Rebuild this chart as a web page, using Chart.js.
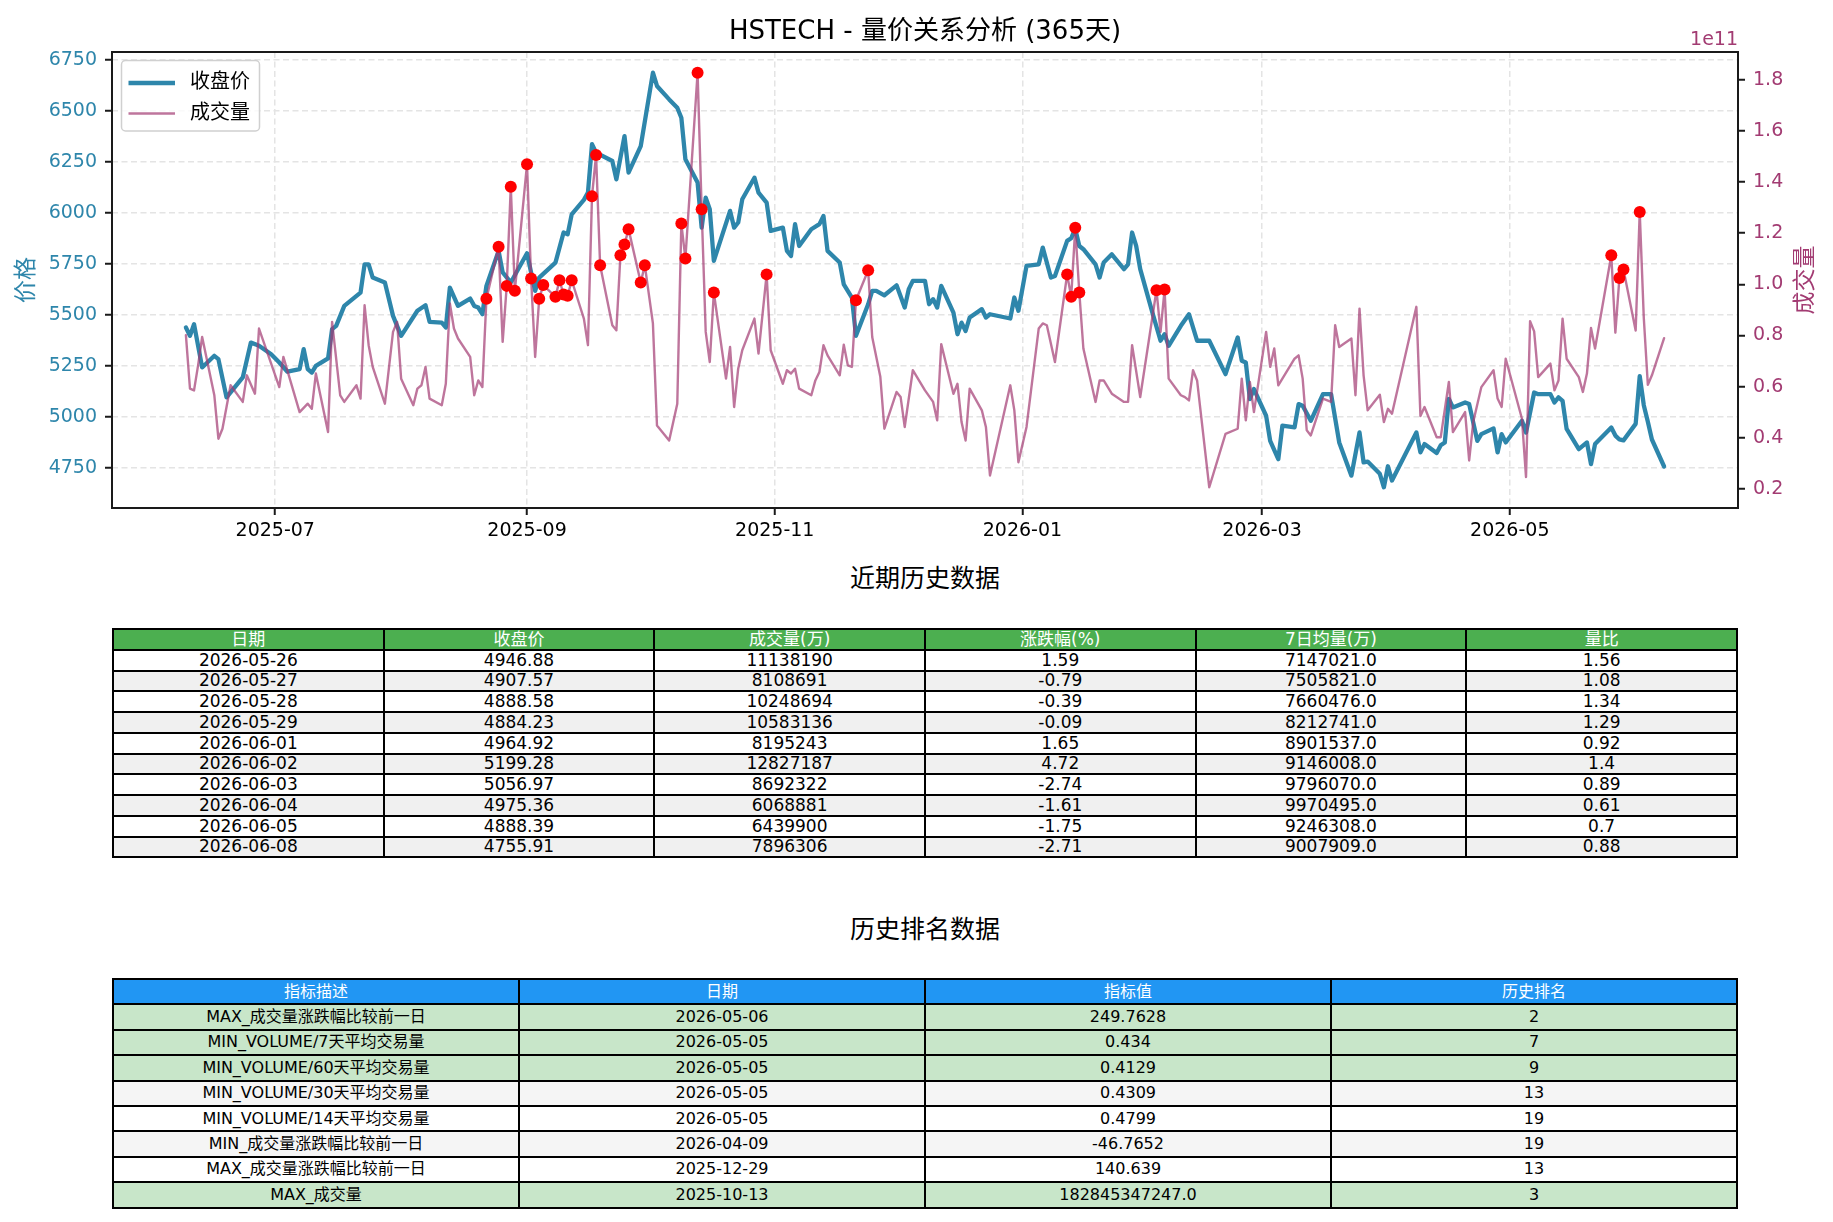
<!DOCTYPE html>
<html lang="zh">
<head>
<meta charset="UTF-8">
<title>HSTECH - 量价关系分析 (365天)</title>
<script src="https://cdn.jsdelivr.net/npm/chart.js"></script>
<style>
  body { margin: 0; background: #fff; }
  #page { position: relative; width: 1833px; height: 1222px; overflow: hidden;
          font-family: "DejaVu Sans", "Noto Sans CJK SC", sans-serif; color: #000; }
  #chartBox { position: absolute; left: 0; top: 0; }
  .tbl-title { position: absolute; left: 112px; width: 1626px; text-align: center;
               font-size: 25px; line-height: 30px; }
  table.data { position: absolute; left: 112px; width: 1626px; border-collapse: collapse;
               table-layout: fixed; }
  table.data td, table.data th { border: 2px solid #000; padding: 0; text-align: center;
               vertical-align: middle; font-weight: normal; white-space: nowrap; overflow: hidden; }
  #recent { top: 628px; font-size: 17px; line-height: 17px; }
  #recent tr { height: 20.75px; }
  #recent th { background: #4CAF50; color: #fff; }
  #rank { top: 978px; font-size: 16px; line-height: 16px; }
  #rank tr { height: 25.4px; }
  #rank th { background: #2196F3; color: #fff; }
</style>
</head>
<body>
<div id="page">
  <div id="chartBox"><canvas id="mainChart" width="1833" height="545"></canvas></div>
  <div class="tbl-title" style="top:564px">近期历史数据</div>
  <table class="data" id="recent"></table>
  <div class="tbl-title" style="top:915px">历史排名数据</div>
  <table class="data" id="rank"></table>
</div>

<script>
// ---- chart data ----
const priceDates = [
  '2025-06-09','2025-06-10','2025-06-11','2025-06-13','2025-06-16','2025-06-17','2025-06-19','2025-06-23','2025-06-25','2025-06-27','2025-06-30',
  '2025-07-02','2025-07-04','2025-07-07','2025-07-08','2025-07-09','2025-07-10','2025-07-11','2025-07-14','2025-07-15','2025-07-16','2025-07-18',
  '2025-07-22','2025-07-23','2025-07-24','2025-07-25','2025-07-28','2025-07-30',
  '2025-08-01','2025-08-05','2025-08-07','2025-08-08','2025-08-11','2025-08-12','2025-08-13','2025-08-15','2025-08-18','2025-08-19','2025-08-20',
  '2025-08-21','2025-08-22','2025-08-25','2025-08-26','2025-08-28',
  '2025-09-01','2025-09-02','2025-09-03','2025-09-04','2025-09-08','2025-09-10','2025-09-11','2025-09-12','2025-09-15','2025-09-16','2025-09-17',
  '2025-09-18','2025-09-22','2025-09-23','2025-09-25','2025-09-26','2025-09-29',
  '2025-10-02','2025-10-03','2025-10-06','2025-10-08','2025-10-09','2025-10-10','2025-10-13','2025-10-14','2025-10-15','2025-10-16','2025-10-17',
  '2025-10-21','2025-10-22','2025-10-23','2025-10-24','2025-10-27','2025-10-28','2025-10-30','2025-10-31',
  '2025-11-03','2025-11-04','2025-11-05','2025-11-06','2025-11-07','2025-11-10','2025-11-12','2025-11-13','2025-11-14','2025-11-17','2025-11-18',
  '2025-11-20','2025-11-21','2025-11-24','2025-11-25','2025-11-26','2025-11-28',
  '2025-12-01','2025-12-03','2025-12-04','2025-12-05','2025-12-08','2025-12-09','2025-12-10','2025-12-11','2025-12-12','2025-12-15','2025-12-16',
  '2025-12-17','2025-12-18','2025-12-19','2025-12-22','2025-12-23','2025-12-24','2025-12-29','2025-12-30','2025-12-31',
  '2026-01-02','2026-01-05','2026-01-06','2026-01-08','2026-01-09','2026-01-12','2026-01-13','2026-01-14','2026-01-15','2026-01-16','2026-01-19',
  '2026-01-20','2026-01-21','2026-01-23','2026-01-26','2026-01-27','2026-01-28','2026-01-29','2026-01-30',
  '2026-02-02','2026-02-04','2026-02-05','2026-02-06','2026-02-09','2026-02-11','2026-02-13','2026-02-16','2026-02-20','2026-02-23','2026-02-24',
  '2026-02-25','2026-02-26','2026-02-27',
  '2026-03-02','2026-03-03','2026-03-05','2026-03-06','2026-03-09','2026-03-10','2026-03-11','2026-03-13','2026-03-16','2026-03-18','2026-03-20',
  '2026-03-23','2026-03-25','2026-03-26','2026-03-27','2026-03-30','2026-03-31',
  '2026-04-01','2026-04-02','2026-04-08','2026-04-09','2026-04-10','2026-04-13','2026-04-14','2026-04-15','2026-04-16','2026-04-17','2026-04-20',
  '2026-04-21','2026-04-23','2026-04-24','2026-04-27','2026-04-28','2026-04-29','2026-04-30',
  '2026-05-04','2026-05-05','2026-05-07','2026-05-08','2026-05-11','2026-05-12','2026-05-13','2026-05-14','2026-05-15','2026-05-18','2026-05-20',
  '2026-05-21','2026-05-22','2026-05-26','2026-05-27','2026-05-28','2026-05-29',
  '2026-06-01','2026-06-02','2026-06-03','2026-06-04','2026-06-05','2026-06-08'
];
const priceValues = [
  5438,5397,5454,5242,5299,5283,5095,5193,5364,5348,5307,
  5266,5221,5234,5332,5234,5217,5250,5286,5430,5446,5544,
  5609,5748,5748,5683,5659,5495,
  5397,5520,5547,5466,5462,5438,5634,5544,5580,5544,5536,
  5503,5642,5814,5708,5659,
  5802,5708,5618,5683,5756,5904,5895,5993,6064,6100,6337,
  6296,6255,6165,6377,6198,6328,
  6688,6623,6557,6516,6467,6263,6149,5928,6075,6018,5765,
  6010,5928,5953,6067,6173,6100,6051,5912,
  5928,5814,5789,5945,5838,5920,5945,5985,5814,5757,5650,
  5585,5397,5552,5618,5618,5596,
  5645,5536,5626,5667,5667,5552,5577,5536,5642,5511,5405,
  5462,5421,5487,5528,5487,5503,5482,5585,5520,
  5740,5748,5830,5683,5691,5863,5876,5923,5838,5822,5748,
  5683,5757,5797,5724,5748,5904,5838,5724,
  5511,5373,5405,5348,5446,5503,5373,5373,5209,5389,5275,
  5266,5087,5136,
  5005,4882,4792,4956,4948,5062,5054,4980,5111,5111,4874,
  4711,4923,4776,4780,4720,4654,
  4757,4687,4923,4825,4866,4822,4860,4874,5087,5046,5070,
  5062,4882,4915,4943,4825,4915,4874,
  4980,4923,5119,5111,5111,5070,5095,5078,4940,4841,4874,
  4768,4866,4946.88,4907.57,4888.58,4884.23,
  4964.92,5199.28,5056.97,4975.36,4888.39,4755.91
];

const volumeDates = [
  '2025-06-09','2025-06-10','2025-06-11','2025-06-12','2025-06-13','2025-06-16','2025-06-17','2025-06-18','2025-06-20','2025-06-23','2025-06-24',
  '2025-06-26','2025-06-27',
  '2025-07-02','2025-07-03','2025-07-07','2025-07-09','2025-07-10','2025-07-11','2025-07-14','2025-07-15','2025-07-17','2025-07-18','2025-07-21',
  '2025-07-22','2025-07-23','2025-07-24','2025-07-25','2025-07-28','2025-07-30','2025-07-31',
  '2025-08-01','2025-08-04','2025-08-05','2025-08-06','2025-08-07','2025-08-08','2025-08-11','2025-08-12','2025-08-13','2025-08-14','2025-08-15',
  '2025-08-18','2025-08-19','2025-08-20','2025-08-21','2025-08-22','2025-08-25','2025-08-26','2025-08-27','2025-08-28','2025-08-29',
  '2025-09-01','2025-09-02','2025-09-03','2025-09-04','2025-09-05','2025-09-08','2025-09-09','2025-09-10','2025-09-11','2025-09-12','2025-09-15',
  '2025-09-16','2025-09-17','2025-09-18','2025-09-19','2025-09-22','2025-09-23','2025-09-24','2025-09-25','2025-09-26','2025-09-29','2025-09-30',
  '2025-10-02','2025-10-03','2025-10-06','2025-10-08','2025-10-09','2025-10-10','2025-10-13','2025-10-14','2025-10-15','2025-10-16','2025-10-17',
  '2025-10-20','2025-10-21','2025-10-22','2025-10-23','2025-10-24','2025-10-27','2025-10-28','2025-10-30','2025-10-31',
  '2025-11-03','2025-11-04','2025-11-05','2025-11-06','2025-11-07','2025-11-10','2025-11-11','2025-11-12','2025-11-13','2025-11-14','2025-11-17',
  '2025-11-18','2025-11-19','2025-11-20','2025-11-21','2025-11-24','2025-11-25','2025-11-27','2025-11-28',
  '2025-12-01','2025-12-02','2025-12-03','2025-12-05','2025-12-08','2025-12-10','2025-12-11','2025-12-12','2025-12-15','2025-12-16','2025-12-17',
  '2025-12-18','2025-12-19','2025-12-22','2025-12-23','2025-12-24','2025-12-29','2025-12-30','2025-12-31',
  '2026-01-02','2026-01-05','2026-01-06','2026-01-07','2026-01-09','2026-01-12','2026-01-13','2026-01-14','2026-01-15','2026-01-16','2026-01-19',
  '2026-01-20','2026-01-21','2026-01-23','2026-01-26','2026-01-27','2026-01-28','2026-01-30',
  '2026-02-03','2026-02-04','2026-02-05','2026-02-06','2026-02-09','2026-02-10','2026-02-11','2026-02-12','2026-02-13','2026-02-16','2026-02-20',
  '2026-02-23','2026-02-24','2026-02-25','2026-02-26','2026-02-27',
  '2026-03-02','2026-03-03','2026-03-04','2026-03-05','2026-03-09','2026-03-10','2026-03-11','2026-03-12','2026-03-13','2026-03-16','2026-03-18',
  '2026-03-19','2026-03-20','2026-03-23','2026-03-24','2026-03-25','2026-03-26','2026-03-27','2026-03-30','2026-03-31',
  '2026-04-01','2026-04-02','2026-04-08','2026-04-09','2026-04-10','2026-04-13','2026-04-14','2026-04-16','2026-04-17','2026-04-20','2026-04-21',
  '2026-04-22','2026-04-24','2026-04-27','2026-04-28','2026-04-29','2026-04-30',
  '2026-05-04','2026-05-05','2026-05-06','2026-05-07','2026-05-08','2026-05-11','2026-05-12','2026-05-13','2026-05-14','2026-05-15','2026-05-18',
  '2026-05-19','2026-05-20','2026-05-21','2026-05-22','2026-05-26','2026-05-27','2026-05-28','2026-05-29',
  '2026-06-01','2026-06-02','2026-06-03','2026-06-04','2026-06-05','2026-06-08'
];
// volume in units of 1e11
const volumeE11 = [
  0.801,0.592,0.585,0.683,0.794,0.566,0.396,0.435,0.605,0.540,0.644,
  0.572,0.827,
  0.598,0.716,0.500,0.533,0.513,0.651,0.422,0.853,0.566,0.540,0.605,
  0.553,0.918,0.762,0.677,0.533,0.814,0.853,
  0.631,0.527,0.592,0.605,0.677,0.553,0.527,0.611,0.925,0.827,0.788,
  0.716,0.566,0.624,0.598,0.944,1.147,0.775,0.994,1.382,0.975,
  1.470,1.023,0.716,0.944,0.997,0.951,1.016,0.960,0.955,1.016,0.866,
  0.762,1.345,1.506,1.075,0.840,0.820,1.114,1.156,1.216,1.007,1.075,
  0.847,0.448,0.389,0.533,1.238,1.101,1.828,1.294,0.814,0.696,0.968,
  0.631,0.755,0.520,0.670,0.742,0.866,0.729,1.039,0.742,
  0.611,0.664,0.651,0.670,0.592,0.566,0.624,0.657,0.762,0.722,0.644,
  0.764,0.683,0.677,0.938,1.055,0.794,0.638,0.435,
  0.579,0.559,0.442,0.664,0.585,0.540,0.468,0.766,0.572,0.611,0.461,
  0.389,0.592,0.507,0.442,0.252,0.605,0.507,0.304,
  0.442,0.827,0.847,0.840,0.696,1.039,0.951,1.221,0.968,0.749,0.540,
  0.624,0.624,0.572,0.540,0.540,0.762,0.559,
  0.977,0.814,0.980,0.631,0.566,0.559,0.546,0.664,0.624,0.206,0.415,
  0.435,0.631,0.468,0.618,0.500,
  0.814,0.677,0.749,0.605,0.709,0.722,0.631,0.429,0.409,0.553,0.540,
  0.840,0.755,0.788,0.566,0.905,0.644,0.507,0.568,0.461,
  0.513,0.494,0.912,0.485,0.520,0.402,0.402,0.618,0.422,0.500,0.311,
  0.461,0.598,0.664,0.553,0.520,0.709,
  0.474,0.246,0.856,0.816,0.637,0.690,0.585,0.624,0.866,0.709,0.637,
  0.579,0.651,0.829,0.749,1.1138,0.8109,1.0249,1.0583,
  0.8195,1.2827,0.8692,0.6069,0.6440,0.7896
];

// days marked with red dots (volume spikes)
const spikeDates = [
  '2025-08-22','2025-08-25','2025-08-27','2025-08-28','2025-08-29','2025-09-01','2025-09-02','2025-09-04','2025-09-05',
  '2025-09-08','2025-09-09','2025-09-10','2025-09-11','2025-09-12','2025-09-17','2025-09-18','2025-09-19',
  '2025-09-24','2025-09-25','2025-09-26','2025-09-29','2025-09-30','2025-10-09','2025-10-10','2025-10-13','2025-10-14',
  '2025-10-17','2025-10-30','2025-11-21','2025-11-24','2026-01-12','2026-01-13','2026-01-14','2026-01-15',
  '2026-02-03','2026-02-05','2026-05-26','2026-05-28','2026-05-29','2026-06-02'
];

const monthTicks = ['2025-07-01','2025-09-01','2025-11-01','2026-01-01','2026-03-01','2026-05-01'];
const priceTicks = [4750,5000,5250,5500,5750,6000,6250,6500,6750];
const volumeTicks = [0.2,0.4,0.6,0.8,1.0,1.2,1.4,1.6,1.8];

// ---- tables ----
const recentCols = ['日期','收盘价','成交量(万)','涨跌幅(%)','7日均量(万)','量比'];
const recentRows = [
  ['2026-05-26','4946.88','11138190','1.59','7147021.0','1.56'],
  ['2026-05-27','4907.57','8108691','-0.79','7505821.0','1.08'],
  ['2026-05-28','4888.58','10248694','-0.39','7660476.0','1.34'],
  ['2026-05-29','4884.23','10583136','-0.09','8212741.0','1.29'],
  ['2026-06-01','4964.92','8195243','1.65','8901537.0','0.92'],
  ['2026-06-02','5199.28','12827187','4.72','9146008.0','1.4'],
  ['2026-06-03','5056.97','8692322','-2.74','9796070.0','0.89'],
  ['2026-06-04','4975.36','6068881','-1.61','9970495.0','0.61'],
  ['2026-06-05','4888.39','6439900','-1.75','9246308.0','0.7'],
  ['2026-06-08','4755.91','7896306','-2.71','9007909.0','0.88']
];
const rankCols = ['指标描述','日期','指标值','历史排名'];
const rankRows = [
  ['MAX_成交量涨跌幅比较前一日','2026-05-06','249.7628','2'],
  ['MIN_VOLUME/7天平均交易量','2026-05-05','0.434','7'],
  ['MIN_VOLUME/60天平均交易量','2026-05-05','0.4129','9'],
  ['MIN_VOLUME/30天平均交易量','2026-05-05','0.4309','13'],
  ['MIN_VOLUME/14天平均交易量','2026-05-05','0.4799','19'],
  ['MIN_成交量涨跌幅比较前一日','2026-04-09','-46.7652','19'],
  ['MAX_成交量涨跌幅比较前一日','2025-12-29','140.639','13'],
  ['MAX_成交量','2025-10-13','182845347247.0','3']
];
const rankHighlight = [true, true, true, false, false, false, false, true];

// ---- helpers ----
const FONT = '"DejaVu Sans", "Noto Sans CJK SC", sans-serif';
const BLUE = '#2E86AB';
const PINK = '#A23B72';
const PINK_LINE = 'rgba(162,59,114,0.7)';

function dayNum(s) {
  return Date.UTC(+s.slice(0, 4), +s.slice(5, 7) - 1, +s.slice(8, 10)) / 864e5;
}
function monthLabel(v) {
  return new Date(Math.round(v) * 864e5).toISOString().slice(0, 7);
}
function withMargin(vals) {
  const lo = Math.min(...vals), hi = Math.max(...vals);
  const m = (hi - lo) * 0.05;
  return [lo - m, hi + m];
}

const pricePts = priceDates.map((d, i) => ({ x: dayNum(d), y: priceValues[i] }));
const volPts = volumeDates.map((d, i) => ({ x: dayNum(d), y: volumeE11[i] }));
const spikePts = spikeDates.map(d => ({ x: dayNum(d), y: volumeE11[volumeDates.indexOf(d)] }));

const xRange = withMargin(pricePts.map(p => p.x));
const pRange = withMargin(priceValues);
const vRange = withMargin(volumeE11);

// titles, legend, frame drawn on top of the chart
const decorPlugin = {
  id: 'decor',
  afterDraw(chart) {
    const ctx = chart.ctx;
    const a = chart.chartArea;
    ctx.save();

    // frame (all four spines)
    ctx.strokeStyle = '#1a1a1a';
    ctx.lineWidth = 2;
    ctx.strokeRect(a.left, a.top, a.right - a.left, a.bottom - a.top);

    // title
    ctx.fillStyle = '#000';
    ctx.font = '26px ' + FONT;
    ctx.textAlign = 'center';
    ctx.textBaseline = 'middle';
    ctx.fillText('HSTECH - 量价关系分析 (365天)', (a.left + a.right) / 2, 32.5);

    // axis titles
    const midY = (a.top + a.bottom) / 2;
    ctx.font = '23px ' + FONT;
    ctx.fillStyle = BLUE;
    ctx.save();
    ctx.translate(27, midY);
    ctx.rotate(-Math.PI / 2);
    ctx.fillText('价格', 0, 0);
    ctx.restore();
    ctx.fillStyle = PINK;
    ctx.save();
    ctx.translate(1806, midY);
    ctx.rotate(-Math.PI / 2);
    ctx.fillText('成交量', 0, 0);
    ctx.restore();

    // offset text of the volume axis
    ctx.font = '19px ' + FONT;
    ctx.textAlign = 'right';
    ctx.textBaseline = 'alphabetic';
    ctx.fillText('1e11', a.right, 45);

    // legend
    const lx = 121.5, ly = 60.5, lw = 138, lh = 70.5;
    ctx.beginPath();
    ctx.roundRect(lx, ly, lw, lh, 4);
    ctx.fillStyle = 'rgba(255,255,255,0.8)';
    ctx.fill();
    ctx.strokeStyle = '#d0d0d0';
    ctx.lineWidth = 1.5;
    ctx.stroke();
    const rows = [
      { label: '收盘价', color: BLUE, width: 4.3, y: 83 },
      { label: '成交量', color: PINK_LINE, width: 2.4, y: 113.5 }
    ];
    ctx.font = '20px ' + FONT;
    ctx.textAlign = 'left';
    ctx.textBaseline = 'middle';
    rows.forEach(r => {
      ctx.beginPath();
      ctx.moveTo(128.5, r.y);
      ctx.lineTo(175, r.y);
      ctx.strokeStyle = r.color;
      ctx.lineWidth = r.width;
      ctx.stroke();
      ctx.fillStyle = '#000';
      ctx.fillText(r.label, 190, r.y);
    });
    ctx.restore();
  }
};

const gridStyle = { color: '#e4e4e4', lineWidth: 1.5, tickLength: 7, tickColor: '#1a1a1a', tickWidth: 2, tickBorderDash: [] };
const dashed = { display: false, dash: [6, 3.5] };

new Chart(document.getElementById('mainChart'), {
  type: 'line',
  data: {
    datasets: [
      { label: 'spikes', data: spikePts, yAxisID: 'yV', showLine: false, order: 0,
        pointRadius: 6, pointHoverRadius: 6, pointBackgroundColor: '#ff0000', pointBorderColor: '#ff0000', pointBorderWidth: 0 },
      { label: '成交量', data: volPts, yAxisID: 'yV', order: 1, borderColor: PINK_LINE, borderWidth: 2.4,
        pointRadius: 0, tension: 0, fill: false, borderJoinStyle: 'round', borderCapStyle: 'round' },
      { label: '收盘价', data: pricePts, yAxisID: 'yP', order: 2, borderColor: BLUE, borderWidth: 4.3,
        pointRadius: 0, tension: 0, fill: false, borderJoinStyle: 'round', borderCapStyle: 'round' }
    ]
  },
  options: {
    responsive: false,
    animation: false,
    events: [],
    layout: { padding: { top: 52, left: 0, right: 0, bottom: 0 } },
    plugins: { legend: { display: false }, tooltip: { enabled: false }, title: { display: false } },
    scales: {
      x: {
        type: 'linear', position: 'bottom', min: xRange[0], max: xRange[1],
        afterBuildTicks: s => { s.ticks = monthTicks.map(d => ({ value: dayNum(d) })); },
        afterFit: s => { s.height = 37; },
        ticks: { callback: v => monthLabel(v), color: '#000', font: { family: FONT, size: 19 },
                 padding: 5, maxRotation: 0, autoSkip: false },
        grid: gridStyle,
        border: dashed
      },
      yP: {
        type: 'linear', position: 'left', min: pRange[0], max: pRange[1],
        afterBuildTicks: s => { s.ticks = priceTicks.map(v => ({ value: v })); },
        afterFit: s => { s.width = 112; },
        ticks: { callback: v => String(v), color: BLUE, font: { family: FONT, size: 19 }, padding: 8 },
        grid: gridStyle,
        border: dashed
      },
      yV: {
        type: 'linear', position: 'right', min: vRange[0], max: vRange[1],
        afterBuildTicks: s => { s.ticks = volumeTicks.map(v => ({ value: v })); },
        afterFit: s => { s.width = 95; },
        ticks: { callback: v => v.toFixed(1), color: PINK, font: { family: FONT, size: 19 }, padding: 8 },
        grid: Object.assign({}, gridStyle, { drawOnChartArea: false }),
        border: { display: false }
      }
    }
  },
  plugins: [decorPlugin]
});

// ---- build the two tables ----
function fillTable(id, cols, rows, rowBg) {
  const t = document.getElementById(id);
  let html = '<tr>' + cols.map(c => '<th>' + c + '</th>').join('') + '</tr>';
  rows.forEach((r, i) => {
    html += '<tr style="background:' + rowBg(i) + '">' + r.map(c => '<td>' + c + '</td>').join('') + '</tr>';
  });
  t.innerHTML = html;
}
fillTable('recent', recentCols, recentRows, i => (i % 2 ? '#f0f0f0' : '#ffffff'));
fillTable('rank', rankCols, rankRows, i => (rankHighlight[i] ? '#c8e6c9' : (i % 2 ? '#f5f5f5' : '#ffffff')));
</script>
</body>
</html>
